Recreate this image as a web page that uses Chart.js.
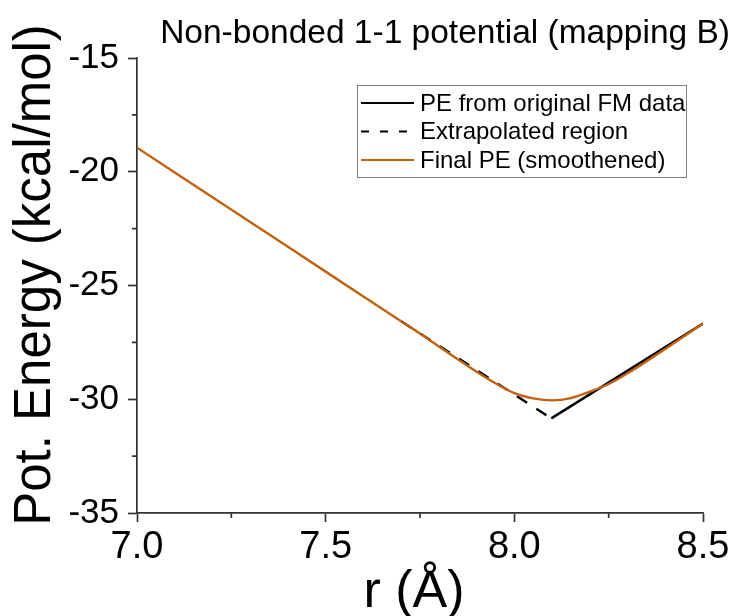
<!DOCTYPE html>
<html><head><meta charset="utf-8">
<script src="https://cdn.jsdelivr.net/npm/chart.js@4.4.0/dist/chart.umd.min.js"></script>
<style>html,body{margin:0;padding:0;background:#fff;}#wrap{width:733px;height:616px;}</style>
</head><body><div id="wrap"><canvas id="c" width="733" height="616"></canvas></div>
<script>
const chartTitle = 'Non-bonded 1-1 potential (mapping B)';
const xAxisTitle = 'r (Å)';
const yAxisTitle = 'Pot. Energy (kcal/mol)';
const xTicks = [7.0, 7.5, 8.0, 8.5];
const xMinorTicks = [7.25, 7.75, 8.25];
const yTicks = [-35, -30, -25, -20, -15];
const yMinorTicks = [-32.5, -27.5, -22.5, -17.5];
const seriesLabels = ['PE from original FM data', 'Extrapolated region', 'Final PE (smoothened)'];
const seriesColors = ['#000000', '#000000', '#C0620F'];

const rOriginal = [8.098, 8.5];
const peOriginal = [-30.84, -26.67];

const rExtrap = [7.70, 8.098];
const peExtrap = [-26.57, -30.84];

const rFinal = [7.0, 7.1, 7.2, 7.3, 7.4, 7.5, 7.6, 7.7, 7.75, 7.8, 7.85, 7.9, 7.95, 8.0, 8.05, 8.1, 8.15, 8.2, 8.25, 8.3, 8.35, 8.4, 8.45, 8.5];
const peFinal = [-18.94, -20.03, -21.12, -22.21, -23.30, -24.39, -25.48, -26.57, -27.11, -27.68, -28.24, -28.79, -29.30, -29.73, -29.96, -30.05, -29.95, -29.67, -29.33, -28.86, -28.34, -27.79, -27.23, -26.67];

const pts = (xs, ys) => xs.map((x, i) => ({x: x, y: ys[i]}));
const FONT = "'Liberation Sans', Arial, sans-serif";
const AXIS = '#333333';

const decorPlugin = {
  id: 'decor',
  afterDraw(chart) {
    const ctx = chart.ctx;
    const xs = chart.scales.x, ys = chart.scales.y;
    const ca = chart.chartArea;
    ctx.save();
    // minor ticks
    ctx.strokeStyle = AXIS; ctx.lineWidth = 1.7;
    ctx.beginPath();
    xMinorTicks.forEach(v => { const p = xs.getPixelForValue(v); ctx.moveTo(p, ca.bottom); ctx.lineTo(p, ca.bottom + 5); });
    yMinorTicks.forEach(v => { const p = ys.getPixelForValue(v); ctx.moveTo(ca.left, p); ctx.lineTo(ca.left - 5, p); });
    ctx.stroke();
    ctx.fillStyle = '#000';
    // chart title
    ctx.font = '33.5px ' + FONT;
    ctx.textAlign = 'right'; ctx.textBaseline = 'alphabetic';
    ctx.fillText(chartTitle, 730, 43);
    // x axis title
    ctx.font = '52px ' + FONT;
    ctx.textAlign = 'center';
    ctx.fillText(xAxisTitle, 414, 607);
    // y axis title
    ctx.save();
    ctx.translate(50, 275);
    ctx.rotate(-Math.PI / 2);
    ctx.font = '51px ' + FONT;
    ctx.textAlign = 'center'; ctx.textBaseline = 'alphabetic';
    ctx.fillText(yAxisTitle, 0, 0);
    ctx.restore();
    // legend
    const bx = 357.5, by = 85.5, bw = 329, bh = 92;
    ctx.fillStyle = '#fff'; ctx.fillRect(bx, by, bw, bh);
    ctx.strokeStyle = '#808080'; ctx.lineWidth = 1; ctx.strokeRect(bx, by, bw, bh);
    const rows = [103, 131.5, 160];
    const dashes = [[], [8, 11], []];
    ctx.font = '24px ' + FONT;
    ctx.textAlign = 'left'; ctx.textBaseline = 'middle';
    seriesLabels.forEach((lab, i) => {
      ctx.beginPath();
      ctx.setLineDash(dashes[i]);
      ctx.strokeStyle = seriesColors[i]; ctx.lineWidth = 2.2;
      ctx.moveTo(361, rows[i]); ctx.lineTo(414, rows[i]);
      ctx.stroke();
      ctx.setLineDash([]);
      ctx.fillStyle = '#000';
      ctx.fillText(lab, 420, rows[i] + 1);
    });
    ctx.restore();
  }
};

new Chart(document.getElementById('c'), {
  type: 'line',
  data: {
    datasets: [
      {label: seriesLabels[2], data: pts(rFinal, peFinal), borderColor: seriesColors[2], borderWidth: 2.4, pointRadius: 0, cubicInterpolationMode: 'monotone', fill: false, order: 0},
      {label: seriesLabels[1], data: pts(rExtrap, peExtrap), borderColor: seriesColors[1], borderWidth: 2.4, borderDash: [12, 11], pointRadius: 0, fill: false, order: 1},
      {label: seriesLabels[0], data: pts(rOriginal, peOriginal), borderColor: seriesColors[0], borderWidth: 2.4, pointRadius: 0, fill: false, order: 2}
    ]
  },
  options: {
    responsive: false,
    animation: false,
    devicePixelRatio: 1,
    layout: {padding: {top: 58, right: 30, left: 0, bottom: 0}},
    plugins: {legend: {display: false}, tooltip: {enabled: false}, title: {display: false}},
    scales: {
      x: {
        type: 'linear', min: 7.0, max: 8.5,
        afterBuildTicks: s => { s.ticks = xTicks.map(v => ({value: v})); },
        afterFit: s => { s.height = 103; },
        ticks: {font: {family: FONT, size: 38}, color: '#000', padding: 3, maxRotation: 0, autoSkip: false, callback: v => Number(v).toFixed(1)},
        grid: {drawOnChartArea: false, drawTicks: true, tickLength: 9, tickColor: AXIS, tickWidth: 1.7},
        border: {display: true, color: AXIS, width: 1.7},
        title: {display: false}
      },
      y: {
        type: 'linear', min: -35, max: -15,
        afterBuildTicks: s => { s.ticks = yTicks.map(v => ({value: v})); },
        afterFit: s => { s.width = 137; },
        ticks: {font: {family: FONT, size: 35}, color: '#000', padding: 9, autoSkip: false, callback: v => String(v)},
        grid: {drawOnChartArea: false, drawTicks: true, tickLength: 9, tickColor: AXIS, tickWidth: 1.7},
        border: {display: true, color: AXIS, width: 1.7},
        title: {display: false}
      }
    }
  },
  plugins: [decorPlugin]
});
</script>
</body></html>
